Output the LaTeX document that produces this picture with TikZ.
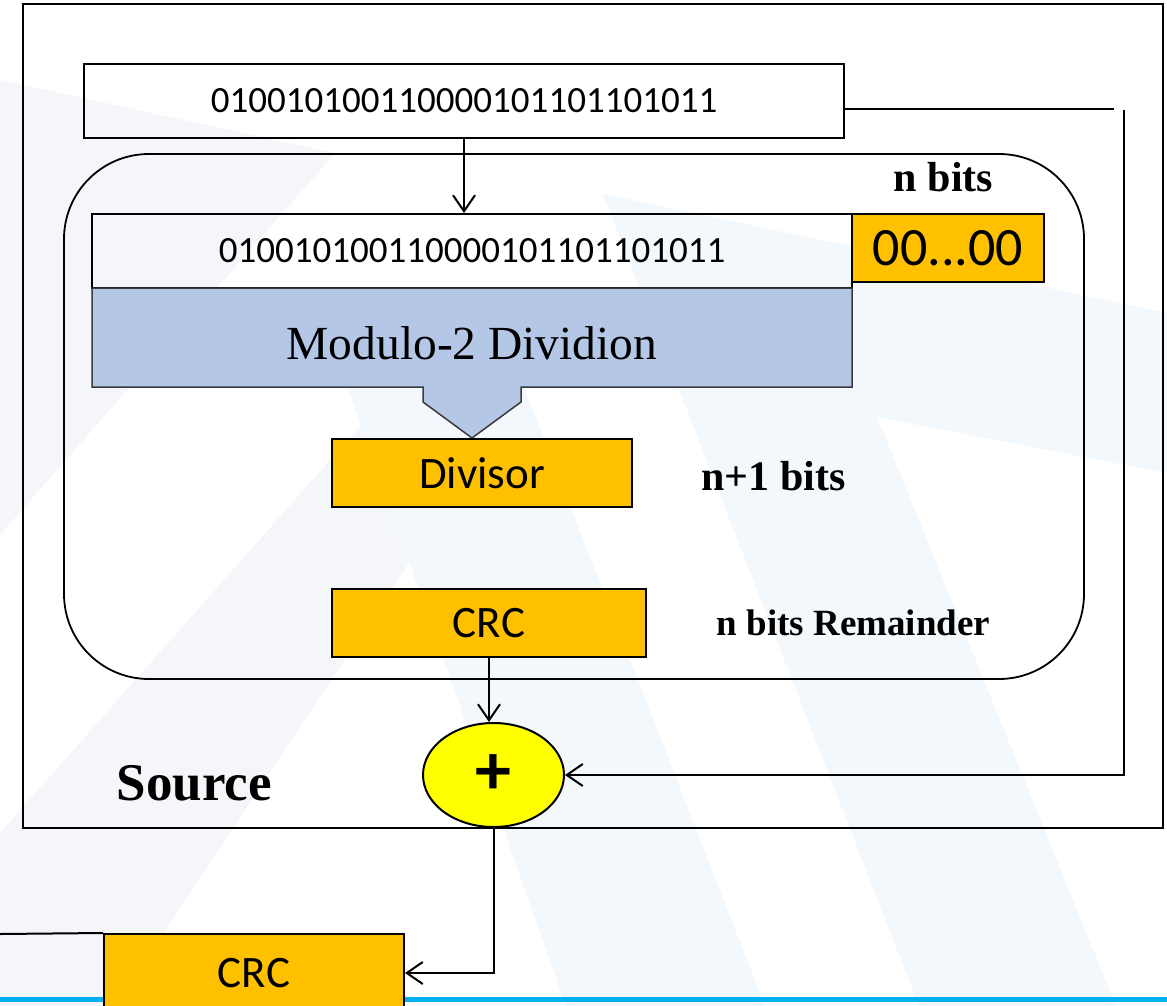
\documentclass[tikz,border=0pt]{standalone}
\usepackage{fontspec}
\setmainfont{Liberation Serif}
\newfontfamily\boxfont{Carlito}
\usetikzlibrary{arrows.meta,shapes.geometric}

\definecolor{gold}{HTML}{FFC000}
\definecolor{divblue}{HTML}{B4C7E7}
\definecolor{divedge}{HTML}{3A3A3A}
\definecolor{plusyellow}{HTML}{FFFF00}
\definecolor{baserule}{HTML}{00B0F0}
\definecolor{washgrey}{HTML}{F4F6F9}
\definecolor{washblue}{HTML}{F3F8FC}

\begin{document}
\begin{tikzpicture}[x=1pt,y=-1pt,
  bitbox/.style={draw,line width=2pt,inner sep=0pt,
    font=\boxfont\fontsize{37}{44}\selectfont},
  goldbox/.style={draw,line width=2pt,fill=gold,inner sep=0pt,
    font=\boxfont\fontsize{45}{54}\selectfont},
  boldlbl/.style={inner sep=0pt,anchor=base,font=\bfseries\fontsize{42}{50}\selectfont},
  link/.style={line width=2pt},
  arr/.style={line width=2pt,-{Straight Barb[length=16pt,width=22pt]}},
]
\useasboundingbox (0,0) rectangle (1167,1006);
\clip (0,0) rectangle (1167,1006);
\fill[white] (0,0) rectangle (1167,1006);

% faint background bands
\fill[washgrey] (0,80) -- (335,153) -- (0,535) -- cycle;
\fill[washgrey] (401,380) -- (530,380) -- (115,1006) -- (0,1006) -- (0,833) -- cycle;
\fill[washblue] (345,380) -- (521,380) -- (765,1006) -- (566,1006) -- cycle;
\fill[washblue] (603,194) -- (1167,313) -- (1167,473) -- (877,417) -- (1116,1006) -- (919,1006) -- cycle;

% footer rule
\fill[baserule] (0,997) rectangle (1167,1002);

% source frame and CRC generator frame
\node[draw,line width=2.5pt,inner sep=0pt,minimum width=1140pt,minimum height=824pt] (source) at (593,416) {};
\node[draw,line width=1.8pt,inner sep=0pt,rounded corners=85pt,minimum width=1020pt,minimum height=525pt] (generator) at (574,416.5) {};

% data words
\node[bitbox,minimum width=760pt,minimum height=74pt] (topbits) at (464,101) {010010100110000101101101011};
\node[bitbox,minimum width=760pt,minimum height=74pt] (databits) at (472,251) {010010100110000101101101011};
\node[goldbox,minimum width=192pt,minimum height=68pt,font=\boxfont\fontsize{54}{64}\selectfont] (zeros) at (948,248) {00...00};

% modulo-2 division block with pointer
\draw[fill=divblue,draw=divedge,line width=1.5pt]
  (92,288) -- (852,288) -- (852,387) -- (521,387) -- (521,402) -- (472,438)
  -- (423,402) -- (423,387) -- (92,387) -- cycle;
\node[inner sep=0pt,font=\fontsize{47.5}{56}\selectfont] (division) at (472,343) {Modulo-2 Dividion};

\node[goldbox,minimum width=300pt,minimum height=68pt] (divisor) at (482,473) {Divisor};
\node[goldbox,minimum width=314pt,minimum height=68pt] (crc) at (489,623) {CRC};

% adder
\node[ellipse,draw,line width=2pt,fill=plusyellow,inner sep=0pt,minimum width=141pt,minimum height=104pt,
  font=\boxfont\bfseries\fontsize{72}{80}\selectfont] (plus) at (493.5,775) {\raisebox{-5pt}{+}};

% transmitted CRC
\node[goldbox,minimum width=300pt,minimum height=140pt] (crcout) at (254,1004) {};
\node[inner sep=0pt,font=\boxfont\fontsize{45}{54}\selectfont] (crcouttext) at (254,973) {CRC};

% labels
\node[boldlbl] (nbits) at (943.5,191) {n bits};
\node[boldlbl] (nplusone) at (773.5,490) {n+1 bits};
\node[boldlbl,font=\bfseries\fontsize{37}{44}\selectfont] (remainder) at (853.5,635) {n bits Remainder};
\node[boldlbl,font=\bfseries\fontsize{53}{62}\selectfont] (sourcelbl) at (194.5,800) {Source};

% connectors
\coordinate (fbA) at (1114,109);
\coordinate (fbB) at (1124,110);
\coordinate (leftedge) at (0,934);
\draw[arr] (topbits.south) -- (topbits.south |- databits.north);
\draw[arr] (crc.south) -- (crc.south |- plus.north);
\draw[link] (topbits.east |- fbA) -- (fbA);
\draw[arr] (fbB) |- (plus.east);
\draw[arr] (plus.south) |- (crcout.east |- crcouttext.center);
\draw[link] (leftedge) -- (crcout.north west);
\end{tikzpicture}
\end{document}
